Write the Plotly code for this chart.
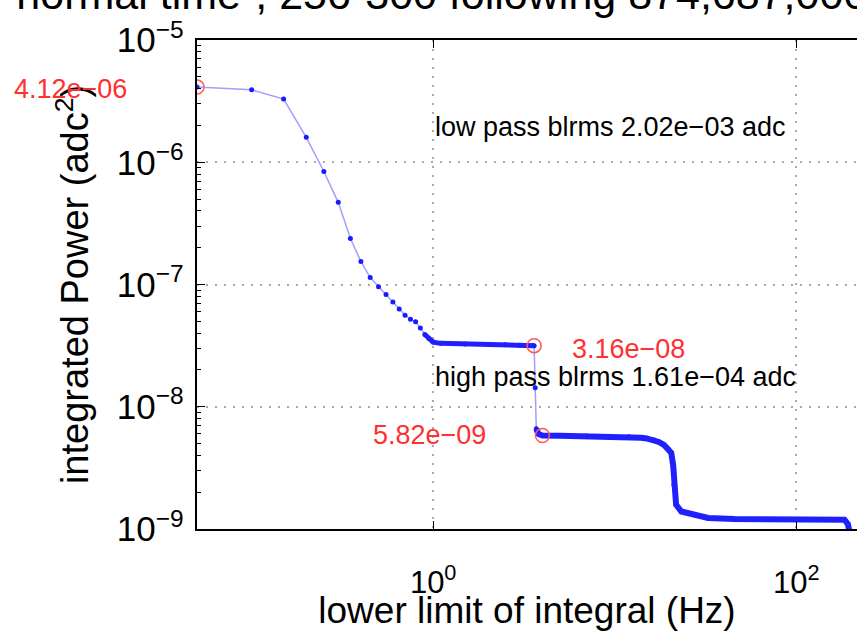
import numpy as np
import plotly.graph_objects as go

# ---- data (frequency in Hz, integrated power in adc^2) ----
freq = [0.05, 0.10, 0.15, 0.20, 0.25, 0.30, 0.35, 0.40, 0.45, 0.50,
        0.55, 0.60, 0.65, 0.70, 0.75, 0.80, 0.85, 0.90, 0.95, 1.00,
        1.10, 1.50, 2.00, 2.50, 3.00, 3.50, 3.60,
        3.65,
        3.70, 3.75, 3.80, 3.90, 4.00, 5.00, 7.00, 9.00, 12.0, 14.0,
        15.0, 16.5, 17.5, 18.7, 19.8, 20.5, 21.0, 21.2, 21.8, 23.3,
        27.4, 32.7, 45.6, 100.0, 150.0, 184.6, 192.6, 196.0]
power = [4.12e-6, 3.92e-6, 3.29e-6, 1.60e-6, 8.4e-7, 4.7e-7, 2.38e-7, 1.54e-7, 1.14e-7, 9.6e-8,
         8.3e-8, 7.2e-8, 6.3e-8, 5.6e-8, 5.2e-8, 4.95e-8, 4.4e-8, 3.9e-8, 3.6e-8, 3.38e-8,
         3.30e-8, 3.26e-8, 3.23e-8, 3.21e-8, 3.19e-8, 3.17e-8, 3.16e-8,
         1.43e-8,
         6.6e-9, 6.2e-9, 6.0e-9, 5.9e-9, 5.82e-9, 5.80e-9, 5.76e-9, 5.72e-9, 5.68e-9, 5.58e-9,
         5.50e-9, 5.34e-9, 5.15e-9, 4.87e-9, 4.50e-9, 4.20e-9, 3.34e-9, 2.30e-9, 1.58e-9, 1.39e-9,
         1.31e-9, 1.23e-9, 1.205e-9, 1.20e-9, 1.195e-9, 1.19e-9, 1.10e-9, 9.7e-10]

marked_freq = [0.05, 3.60, 4.00]          # circled points
title_text = "\u201cnormal time\u201d, 256-300 following 874,687,000"
x_label = "lower limit of integral (Hz)"
y_label = "integrated Power (adc<sup>2</sup>)"
x_tickvals = [1, 100]
x_ticktext = ["10<sup>0</sup>", "10<sup>2</sup>"]

f = np.array(freq)
p = np.array(power)
marked_p = [p[np.argmin(np.abs(f - mf))] for mf in marked_freq]


def sci(v):
    return f"{v:.2e}".replace("-", "\u2212")


FONT = "Liberation Sans, Arial, Helvetica, sans-serif"
fig = go.Figure()

# thin line with dot markers (whole curve)
fig.add_trace(go.Scatter(
    x=f, y=p, mode="lines+markers",
    line=dict(color="rgba(80,80,255,0.55)", width=1.5),
    marker=dict(size=5, color="#1a1aff"),
    showlegend=False))

# densely sampled stretches look like a thick band
seg1 = (f >= 0.9) & (f <= 3.6)
seg2 = f >= 3.7
for seg, w in ((seg1, 5), (seg2, 6)):
    fig.add_trace(go.Scatter(
        x=f[seg], y=p[seg], mode="lines",
        line=dict(color="#2020ff", width=w),
        showlegend=False))

# red circles
fig.add_trace(go.Scatter(
    x=marked_freq, y=marked_p, mode="markers",
    marker=dict(symbol="circle-open", size=14, color="#ff5a5a", line=dict(width=1.5)),
    showlegend=False))

# red value labels
label_offsets = [(-185, -2, "left"), (36, -3, "left"), (-54, 0, "right")]
for mf, mp, (dx, dy, anc) in zip(marked_freq, marked_p, label_offsets):
    fig.add_annotation(x=np.log10(mf), y=np.log10(mp), xref="x", yref="y",
                       text=sci(mp), showarrow=False, xanchor=anc, yanchor="middle",
                       xshift=dx, yshift=dy,
                       font=dict(family=FONT, size=27, color="#ff3030"))

low_rms = np.sqrt(marked_p[0] - marked_p[1])
high_rms = np.sqrt(marked_p[1] - marked_p[2])
fig.add_annotation(x=0, y=-5.709, xref="x", yref="y", xanchor="left", yanchor="middle",
                   text=f"low pass blrms {sci(low_rms)} adc", showarrow=False,
                   font=dict(family=FONT, size=27, color="black"))
fig.add_annotation(x=0, y=-7.754, xref="x", yref="y", xanchor="left", yanchor="middle",
                   text=f"high pass blrms {sci(high_rms)} adc", showarrow=False,
                   font=dict(family=FONT, size=27, color="black"))

# title, cut off at the top edge like in the reference
fig.add_annotation(x=-197 / 660, y=1 + 46 / 491, xref="paper", yref="paper",
                   xanchor="left", yanchor="middle", text=title_text, showarrow=False,
                   font=dict(family=FONT, size=43, color="black"))

GRID = "#a8a8a8"
fig.update_layout(
    width=857, height=631,
    margin=dict(l=197, r=0, t=40, b=100),
    paper_bgcolor="white", plot_bgcolor="white",
    font=dict(family=FONT, color="black"),
    xaxis=dict(type="log", range=[np.log10(0.05), 2.335],
               tickmode="array", tickvals=x_tickvals, ticktext=x_ticktext,
               showline=True, linecolor="black", linewidth=1.5, mirror="ticks",
               ticks="inside", ticklen=8, tickcolor="black",
               showgrid=True, gridcolor=GRID, griddash="2px,7px", gridwidth=1.5,
               tickfont=dict(family=FONT, size=31), ticklabelstandoff=25,
               title=dict(text=x_label, font=dict(family=FONT, size=37), standoff=5),
               zeroline=False),
    yaxis=dict(type="log", range=[-9, -5], dtick=1, exponentformat="power",
               showline=True, linecolor="black", linewidth=1.5, mirror=False,
               ticks="inside", ticklen=8, tickcolor="black",
               minor=dict(ticks="inside", ticklen=4, tickcolor="black", showgrid=False),
               showgrid=True, gridcolor=GRID, griddash="2px,7px", gridwidth=1.5,
               tickfont=dict(family=FONT, size=28), ticklabelstandoff=6,
               title=dict(text=y_label, font=dict(family=FONT, size=38), standoff=16),
               zeroline=False),
)

fig.write_html("out.html", config={"displayModeBar": False},
               post_script="document.body.style.margin='0';")
